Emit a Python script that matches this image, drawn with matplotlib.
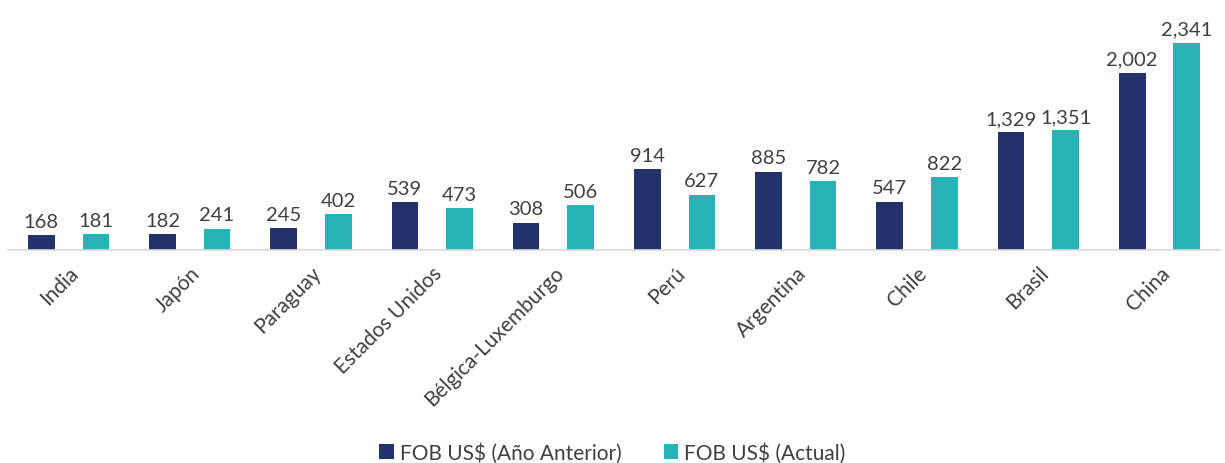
import numpy as np
import matplotlib.pyplot as plt

plt.rcParams['font.family'] = ['Lato', 'DejaVu Sans']

paises = ['India', 'Japón', 'Paraguay', 'Estados Unidos', 'Bélgica-Luxemburgo',
          'Perú', 'Argentina', 'Chile', 'Brasil', 'China']
anterior = [168, 182, 245, 539, 308, 914, 885, 547, 1329, 2002]
actual = [181, 241, 402, 473, 506, 627, 782, 822, 1351, 2341]

c_ant = '#22336B'
c_act = '#27B2B5'
txt = '#404040'

fig = plt.figure(figsize=(12.25, 4.64), dpi=100)
ax = fig.add_axes([0.0065, 0.459, 0.9895, 0.532])

x = np.arange(len(paises))
w = 0.22
b1 = ax.bar(x - 0.225, anterior, w, color=c_ant, label='FOB US$ (Año Anterior)')
b2 = ax.bar(x + 0.225, actual, w, color=c_act, label='FOB US$ (Actual)')

for bars in (b1, b2):
    for b in bars:
        h = b.get_height()
        ax.text(b.get_x() + b.get_width() / 2, h + 60, f'{h:,.0f}',
                ha='center', va='bottom', fontsize=14.5, color=txt)

ax.set_xlim(-0.5, len(paises) - 0.5)
ax.set_ylim(0, 2790)
ax.set_xticks(x)
ax.set_xticklabels(paises, rotation=45, ha='right', rotation_mode='anchor',
                   fontsize=15, color=txt)
ax.tick_params(axis='x', length=0, pad=9)
ax.set_yticks([])
for s in ['top', 'right', 'left']:
    ax.spines[s].set_visible(False)
ax.spines['bottom'].set_color('#d9d9d9')
ax.spines['bottom'].set_linewidth(1.2)

fig.legend(loc='lower center', bbox_to_anchor=(0.5, -0.04), ncol=2, frameon=False,
           fontsize=15, handlelength=0.7, handleheight=0.7, columnspacing=2.0,
           handletextpad=0.3, labelcolor=txt)

fig.savefig('out.png', dpi=100)
